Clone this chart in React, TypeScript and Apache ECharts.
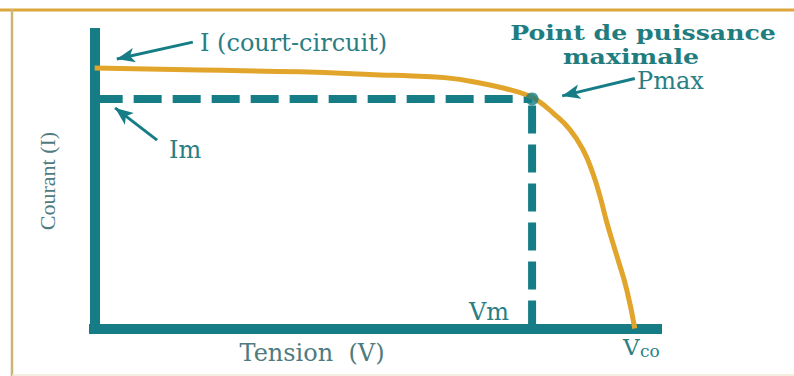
import React, { useEffect, useRef } from "react";
import * as echarts from "echarts";

// I-V curve of a solar cell (arbitrary units 0..100)
const curveVoltage = [0, 18.6, 36.2, 50.3, 56.1, 62.1, 67.9, 72.7, 76.2, 78.0, 80.8, 83.8, 86.1, 87.8, 89.1, 90.3, 92.1, 93.8, 95.2];
const curveCurrent = [86.7, 86.0, 85.4, 84.4, 84.0, 83.4, 81.7, 79.7, 77.7, 76.0, 71.7, 66.1, 59.4, 51.7, 43.8, 35.1, 23.8, 12.8, 0];
const pmaxVoltage = 77.1; // Vm
const pmaxCurrent = 76.4; // Im

// annotation arrows: [fromV, fromI, toV, toI]
const arrowIsc = [17.3, 95.3, 3.9, 89.7];
const arrowIm = [11.0, 62.7, 3.6, 73.4];
const arrowPmax = [95.2, 83.2, 82.4, 77.4];

const TEAL = "#167D86";
const GOLD = "#E2A52B";
const TXT = "#2A7E84";
const GREY = "#4F7B7E";
const SERIF = "'DejaVu Serif', serif";

export default function App() {
  const ref = useRef<HTMLDivElement>(null);
  useEffect(() => {
    if (!ref.current) return;
    const chart = echarts.init(ref.current, null, { renderer: "svg" });
    const curve = curveVoltage.map((v, i) => [v, curveCurrent[i]]);
    const arrow = (a: number[]) => [
      { coord: [a[0], a[1]], symbol: "none" },
      { coord: [a[2], a[3]], symbol: "arrow" },
    ];
    const dashStyle = { color: TEAL, width: 8, type: [28, 11], cap: "butt" };
    chart.setOption({
      animation: false,
      backgroundColor: "#ffffff",
      grid: { left: 89, right: 132, top: 28, bottom: 43 },
      xAxis: {
        type: "value",
        min: -1,
        max: 100,
        axisLine: { onZero: true, lineStyle: { color: TEAL, width: 10, cap: "butt" } },
        axisTick: { show: false },
        axisLabel: { show: false },
        splitLine: { show: false },
      },
      yAxis: {
        type: "value",
        min: -1.5,
        max: 100,
        axisLine: { show: true, onZero: true, lineStyle: { color: TEAL, width: 10, cap: "butt" } },
        axisTick: { show: false },
        axisLabel: { show: false },
        splitLine: { show: false },
      },
      series: [
        {
          type: "line",
          data: [
            [0, pmaxCurrent],
            [pmaxVoltage, pmaxCurrent],
          ],
          symbol: "none",
          lineStyle: dashStyle,
          z: 1,
          silent: true,
          markLine: {
            silent: true,
            symbolSize: [11, 18],
            label: { show: false },
            lineStyle: { color: TEAL, width: 3, type: "solid" },
            data: [arrow(arrowIsc), arrow(arrowIm), arrow(arrowPmax)],
          },
        },
        {
          type: "line",
          data: [
            [pmaxVoltage, 0],
            [pmaxVoltage, pmaxCurrent],
          ],
          symbol: "none",
          lineStyle: dashStyle,
          z: 1,
          silent: true,
        },
        {
          type: "line",
          data: curve,
          smooth: 0.5,
          symbol: "none",
          lineStyle: { color: GOLD, width: 5 },
          z: 2,
        },
        {
          type: "scatter",
          data: [[pmaxVoltage, pmaxCurrent]],
          symbolSize: 13,
          itemStyle: { color: TEAL },
          z: 3,
        },
      ],
      graphic: [
        { type: "line", shape: { x1: 0, y1: 10, x2: 794, y2: 10 }, style: { stroke: "#DBA63C", lineWidth: 3 } },
        { type: "line", shape: { x1: 12, y1: 9, x2: 12, y2: 376 }, style: { stroke: "#CDB573", lineWidth: 2.5 } },
        { type: "line", shape: { x1: 12, y1: 375, x2: 794, y2: 375 }, style: { stroke: "#F1E9D6", lineWidth: 1.5 } },
        { type: "text", x: 200, y: 43, style: { text: "I (court-circuit)", fontFamily: SERIF, fontSize: 24, fill: TXT, align: "left", verticalAlign: "middle" } },
        { type: "text", x: 169, y: 150, style: { text: "Im", fontFamily: SERIF, fontSize: 24, fill: TXT, align: "left", verticalAlign: "middle" } },
        { type: "text", x: 643, y: 32, scaleX: 1.2, style: { text: "Point de puissance", fontFamily: SERIF, fontWeight: "bold", fontSize: 21, fill: "#1F7D80", align: "center", verticalAlign: "middle" } },
        { type: "text", x: 631, y: 56.5, scaleX: 1.2, style: { text: "maximale", fontFamily: SERIF, fontWeight: "bold", fontSize: 21, fill: "#1F7D80", align: "center", verticalAlign: "middle" } },
        { type: "text", x: 637, y: 80.5, style: { text: "Pmax", fontFamily: SERIF, fontSize: 24, fill: TXT, align: "left", verticalAlign: "middle" } },
        { type: "text", x: 469, y: 312, style: { text: "Vm", fontFamily: SERIF, fontSize: 24, fill: TXT, align: "left", verticalAlign: "middle" } },
        { type: "text", x: 623, y: 347, style: { text: "V", fontFamily: SERIF, fontSize: 23, fill: TXT, align: "left", verticalAlign: "middle" } },
        { type: "text", x: 640, y: 351, style: { text: "co", fontFamily: SERIF, fontSize: 17, fill: TXT, align: "left", verticalAlign: "middle" } },
        { type: "text", x: 312, y: 353, style: { text: "Tension  (V)", fontFamily: SERIF, fontSize: 24, fill: GREY, align: "center", verticalAlign: "middle" } },
        { type: "text", x: 47, y: 181, rotation: Math.PI / 2, style: { text: "Courant (I)", fontFamily: "'Liberation Serif', serif", fontSize: 22, fill: GREY, align: "center", verticalAlign: "middle" } },
      ],
    });
    return () => chart.dispose();
  }, []);
  return (
    <div
      ref={ref}
      style={{ position: "absolute", left: 0, top: 0, width: 794, height: 376 }}
    />
  );
}
